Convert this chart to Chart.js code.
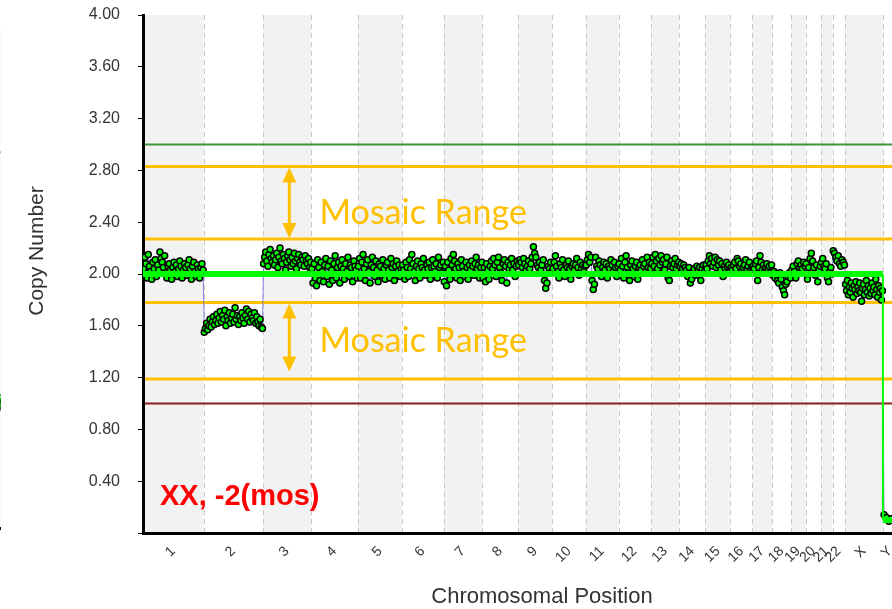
<!DOCTYPE html>
<html>
<head>
<meta charset="utf-8">
<script src="https://cdn.jsdelivr.net/npm/chart.js@4.4.0/dist/chart.umd.min.js"></script>
<style>
  html, body { margin: 0; padding: 0; background: #fff; overflow: hidden; }
  #wrap { position: relative; width: 892px; height: 609px; overflow: hidden; background: #fff; }
  #main { position: absolute; left: 0; top: 0; }
  #prev { position: absolute; left: -54px; top: 0; }
</style>
</head>
<body>
<div id="wrap">
  <canvas id="main" width="912" height="609"></canvas>
  <canvas id="prev" width="60" height="609"></canvas>
</div>
<script>
// Chromosomes and their lengths (Mb)
const chromosomes = ['1','2','3','4','5','6','7','8','9','10','11','12','13','14','15','16','17','18','19','20','21','22','X','Y'];
const chromSizesMb = [249,243,198,191,181,171,159,146,141,136,135,134,115,107,103,90,81,78,59,63,48,51,155,59];

// Probe copy-number values per chromosome, in genomic order
const cn1  = [2.04,2.13,2.08,1.97,2.15,2.06,2.02,1.96,2.09,2.04,2.11,1.98,2.07,2.03,2.17,2.12,2.09,2.05,2.14,2.01,1.97,2.06,2.08,2.03,1.96,2.05,2.09,2.02,2.07,1.98,2.04,2.10,2.06,1.97,2.03,2.08,2.05,1.99,2.07,2.11,2.04,1.96,2.06,2.09,2.02,1.98,2.07,2.04,1.97,2.05,2.08,2.03];
const cn2  = [1.55,1.58,1.62,1.57,1.60,1.65,1.59,1.63,1.67,1.61,1.64,1.69,1.62,1.66,1.71,1.63,1.68,1.65,1.72,1.60,1.67,1.64,1.70,1.62,1.66,1.69,1.63,1.74,1.65,1.68,1.61,1.67,1.64,1.70,1.66,1.62,1.68,1.73,1.65,1.71,1.63,1.69,1.66,1.64,1.70,1.62,1.67,1.63,1.60,1.65,1.59,1.58];
const cn3  = [2.08,2.13,2.17,2.10,2.06,2.15,2.19,2.12,2.09,2.14,2.07,2.11,2.16,2.05,2.13,2.20,2.10,2.08,2.15,2.12,2.03,2.09,2.14,2.17,2.11,2.06,2.13,2.08,2.16,2.10,2.04,2.12,2.15,2.09,2.07,2.13,2.11,2.06,2.14,2.10,2.08,2.12,2.05,2.09];
const cn4  = [2.04,1.93,2.08,1.97,1.91,2.11,2.05,1.95,2.09,2.02,1.94,2.07,2.12,1.98,2.06,1.92,2.10,2.03,1.95,2.08,2.14,1.97,2.05,2.09,1.93,2.06,2.11,2.04,1.96,2.08,2.02,2.13,1.98,2.07,2.05,1.94,2.10,2.06,2.03,1.97];
const cn5  = [2.06,2.12,1.97,2.09,2.15,2.04,1.95,2.08,2.11,2.02,1.93,2.07,2.13,2.05,1.98,2.10,2.03,1.94,2.08,2.06,1.99,2.11,2.04,1.96,2.07,2.09,2.03,1.97,2.12,2.05,2.08,1.95,2.06,2.10,2.02,2.07,1.98,2.04];
const cn6  = [2.07,2.03,1.96,2.09,2.05,1.98,2.11,2.04,2.15,2.08,2.02,1.95,2.06,2.10,2.04,1.97,2.08,2.05,2.12,2.03,1.99,2.07,2.04,2.09,1.96,2.05,2.11,2.06,2.02,2.08,1.97,2.13,2.05,2.07,2.01,2.09];
const cn7  = [1.94,2.06,1.91,2.09,2.03,1.96,2.12,2.07,2.15,2.10,2.04,1.97,2.08,2.05,1.95,2.11,2.06,2.02,1.98,2.09,2.05,1.96,2.07,2.03,2.10,2.06,1.99,2.08,2.13,2.04,2.07,1.97,2.05,2.09];
const cn8  = [1.97,2.05,1.94,2.08,2.03,1.96,2.06,2.10,2.04,2.12,2.07,1.98,2.09,2.13,2.05,2.01,1.95,2.08,2.11,2.06,1.93,2.09,2.04,2.07,2.12,2.03,2.08,1.98,2.06,2.10];
const cn9  = [2.07,2.11,2.09,2.05,2.12,2.08,2.03,2.06,2.10,2.04,2.08,2.13,2.21,2.16,2.13,2.07,2.05,2.09,2.03,2.07,2.11,1.95,1.89,1.93,2.06,2.04,2.09,2.02];
const cn10 = [2.04,2.09,2.14,2.06,2.02,1.97,2.08,2.05,2.11,2.03,1.98,2.07,2.05,2.10,2.04,1.96,2.06,2.08,2.03,2.07,2.12,2.05,1.99,2.09,2.04,2.07,2.02,2.06];
const cn11 = [2.07,2.11,2.15,2.09,2.13,1.95,1.88,1.92,2.13,2.06,2.04,2.10,2.07,1.98,2.05,2.09,2.03,2.08,1.97,2.06,2.04,2.11,2.07,2.02,2.09,2.05,1.98,2.06];
const cn12 = [2.08,2.03,2.12,2.06,1.97,2.09,2.14,2.05,2.01,1.95,2.07,2.10,2.04,1.98,2.06,2.09,1.96,2.05,2.07,2.03,2.11,2.06,2.08,2.02,2.13,2.05,2.09,2.04];
const cn13 = [2.08,2.13,2.06,2.15,2.10,2.04,2.12,2.07,2.14,2.09,2.11,2.03,2.08,2.13,1.97,1.95,2.06,2.10,2.05,2.08,2.12,2.04,2.07,2.09];
const cn14 = [2.06,2.08,2.04,2.07,2.05,2.03,1.98,2.05,1.93,1.96,2.02,2.04,1.99,2.06,2.03,2.05,1.95,2.04,2.07,2.02];
const cn15 = [2.07,2.04,2.10,2.14,2.08,2.12,2.06,2.09,2.13,2.05,2.11,2.07,2.10,2.03,2.08,1.98,2.06,2.04,2.09,2.05,2.07,2.03];
const cn16 = [2.05,2.03,2.07,2.09,2.04,2.12,2.10,2.06,2.08,2.02,2.05,2.07,2.11,2.04,2.06,2.09,2.03,2.05];
const cn17 = [2.06,2.04,2.08,2.10,1.95,2.05,2.14,2.09,2.03,2.07,2.02,2.05,2.08,2.04,2.06,2.01,2.07];
const cn18 = [1.99,2.02,1.97,2.00,1.95,1.93,2.01,1.96,1.90,1.87,1.84,1.92,1.94,1.98,2.01,1.97];
const cn19 = [2.03,2.06,2.02,1.97,2.08,2.10,2.05,2.07,2.04,2.09,2.06];
const cn20 = [2.08,1.96,2.05,2.12,2.16,2.10,2.05,1.99,2.07,1.94,2.03,2.06];
const cn21 = [2.09,2.12,2.06,2.04,2.08,1.97,1.94,2.02,2.05,2.00];
const cn22 = [2.18,2.16,2.13,2.10,2.14,2.08,2.06,2.11,2.09,2.07];
const cnX  = [1.92,1.87,1.95,1.84,1.90,1.86,1.93,1.89,1.82,1.91,1.88,1.94,1.85,1.90,1.87,1.93,1.86,1.79,1.89,1.92,1.84,1.88,1.95,1.86,1.91,1.83,1.89,1.85,1.93,1.87,1.90,1.84,1.96,1.88,1.82,1.91,1.86,1.89,1.80,1.87];
const cnY  = [0.14,0.12,0.09,0.11,0.10,0.12];
const probeValues = [cn1,cn2,cn3,cn4,cn5,cn6,cn7,cn8,cn9,cn10,cn11,cn12,cn13,cn14,cn15,cn16,cn17,cn18,cn19,cn20,cn21,cn22,cnX,cnY];

// Segment copy-number call per chromosome
const segmentCalls = [2,2,2,2,2,2,2,2,2,2,2,2,2,2,2,2,2,2,2,2,2,2,2,0.1];

// Reference levels
const gainLevel = 3.0;
const lossLevel = 1.0;
const mosaicLevels = [2.83, 2.27, 1.78, 1.19];
const mosaicArrows = [[2.83, 2.27], [1.78, 1.24]];
const mosaicCaptionLevels = [2.47, 1.48];
const mosaicLabel = 'Mosaic Range';
const resultLabel = 'XX, -2(mos)';
const yTickValues = [0.4,0.8,1.2,1.6,2.0,2.4,2.8,3.2,3.6,4.0];

// Neighbouring panel (right end only)
const prevValues = [0.97,1.03,0.99,1.02,0.96,1.01,0.98,1.04];

// ---- derived geometry in genome coordinates ----
const chromStarts = [];
chromSizesMb.reduce((acc, s) => { chromStarts.push(acc); return acc + s; }, 0);
const genomeEnd = chromStarts[chromStarts.length - 1] + chromSizesMb[chromSizesMb.length - 1];
const chromCenters = chromStarts.map((s, i) => s + chromSizesMb[i] / 2);

const probePoints = [];
probeValues.forEach((vals, i) => {
  vals.forEach((v, j) => {
    probePoints.push({ x: chromStarts[i] + chromSizesMb[i] * (j + 0.5) / vals.length, y: v });
  });
});

const segPoints = [];
segmentCalls.forEach((v, i) => {
  segPoints.push({ x: chromStarts[i], y: v });
  segPoints.push({ x: chromStarts[i] + chromSizesMb[i], y: v });
});

const FONT = "'Liberation Sans', Arial, sans-serif";
const ORANGE = '#FFC000';
const AXIS_TEXT = '#333';

function hLine(ctx, area, y, color, width) {
  ctx.strokeStyle = color;
  ctx.lineWidth = width;
  ctx.beginPath();
  ctx.moveTo(area.left, y);
  ctx.lineTo(area.right, y);
  ctx.stroke();
}

// Alternating chromosome bands, dashed boundaries and reference levels
const backdrop = {
  id: 'backdrop',
  beforeDraw(chart) {
    const { ctx, chartArea: a, scales: { x, y } } = chart;
    ctx.save();
    ctx.beginPath();
    ctx.rect(a.left, a.top, a.right - a.left, a.bottom - a.top);
    ctx.clip();
    chromStarts.forEach((s, i) => {
      if (i % 2 === 0) {
        const x0 = x.getPixelForValue(s);
        const x1 = x.getPixelForValue(s + chromSizesMb[i]);
        ctx.fillStyle = '#f2f2f2';
        ctx.fillRect(x0, a.top, x1 - x0, a.bottom - a.top);
      }
    });
    ctx.strokeStyle = '#c8c8c8';
    ctx.lineWidth = 1;
    ctx.setLineDash([5, 4]);
    chromStarts.forEach((s, i) => {
      if (i === 0) return;
      const px = Math.round(x.getPixelForValue(s)) + 0.5;
      ctx.beginPath();
      ctx.moveTo(px, a.top);
      ctx.lineTo(px, a.bottom);
      ctx.stroke();
    });
    ctx.setLineDash([]);
    hLine(ctx, a, y.getPixelForValue(gainLevel), '#3c963c', 2);
    hLine(ctx, a, y.getPixelForValue(lossLevel), '#8b1e1e', 2);
    mosaicLevels.forEach(v => hLine(ctx, a, y.getPixelForValue(v), ORANGE, 3));
    ctx.restore();
  }
};

function arrowHead(ctx, x, y, dir) {
  ctx.beginPath();
  ctx.moveTo(x, y);
  ctx.lineTo(x - 7, y + dir * 15);
  ctx.lineTo(x + 7, y + dir * 15);
  ctx.closePath();
  ctx.fill();
}

// Double arrows with "Mosaic Range" captions, result label and axis titles
const annotations = {
  id: 'annotations',
  afterDatasetsDraw(chart) {
    const { ctx, chartArea: a, scales: { x, y } } = chart;
    const arrowX = x.getPixelForValue(chromStarts[2] + 108);
    const textX = x.getPixelForValue(chromStarts[2] + 232);
    ctx.save();
    ctx.strokeStyle = ORANGE;
    ctx.fillStyle = ORANGE;
    mosaicArrows.forEach(([hi, lo], k) => {
      const yTop = y.getPixelForValue(hi) + 1;
      const yBot = y.getPixelForValue(lo) - 1;
      ctx.lineWidth = 3;
      ctx.beginPath();
      ctx.moveTo(arrowX, yTop + 10);
      ctx.lineTo(arrowX, yBot - 10);
      ctx.stroke();
      arrowHead(ctx, arrowX, yTop, 1);
      arrowHead(ctx, arrowX, yBot, -1);
      ctx.font = "34px Lato, 'Open Sans', sans-serif";
      ctx.textAlign = 'left';
      ctx.textBaseline = 'middle';
      ctx.fillText(mosaicLabel, textX, y.getPixelForValue(mosaicCaptionLevels[k]));
    });
    ctx.fillStyle = '#ff0000';
    ctx.font = "bold 29px " + FONT;
    ctx.textAlign = 'left';
    ctx.textBaseline = 'middle';
    ctx.fillText(resultLabel, a.left + 17, a.bottom - 36);

    ctx.fillStyle = AXIS_TEXT;
    ctx.textAlign = 'center';
    ctx.font = "22px " + FONT;
    ctx.fillText('Chromosomal Position', a.left + 399, a.bottom + 64);
    ctx.translate(a.left - 106, a.top + 236);
    ctx.rotate(-Math.PI / 2);
    ctx.font = "21px " + FONT;
    ctx.fillText('Copy Number', 0, 0);
    ctx.restore();
  }
};

new Chart(document.getElementById('main'), {
  type: 'scatter',
  data: {
    datasets: [
      {
        label: 'Segments',
        data: segPoints,
        showLine: true,
        borderColor: '#00ff00',
        borderWidth: 6,
        borderCapStyle: 'butt',
        pointRadius: 0,
        order: 0,
        segment: {
          borderWidth: c => (c.p0.parsed.x === c.p1.parsed.x ? 2 : 6)
        }
      },
      {
        label: 'Probes',
        data: probePoints,
        showLine: true,
        borderColor: 'rgba(110,110,230,0.85)',
        borderWidth: 1,
        pointRadius: 3,
        pointBackgroundColor: '#00ff00',
        pointBorderColor: '#000',
        pointBorderWidth: 1.5,
        order: 1
      }
    ]
  },
  options: {
    responsive: false,
    animation: false,
    events: [],
    layout: { padding: { top: 15, right: 4, left: 0, bottom: 0 } },
    plugins: { legend: { display: false }, tooltip: { enabled: false } },
    scales: {
      x: {
        type: 'linear',
        min: 0,
        max: genomeEnd,
        afterBuildTicks: s => { s.ticks = chromCenters.map(v => ({ value: v })); },
        afterFit: s => { s.height = 76; },
        ticks: {
          autoSkip: false,
          minRotation: 45,
          maxRotation: 45,
          padding: 10,
          color: AXIS_TEXT,
          font: { family: FONT, size: 14 },
          callback: (v, i) => chromosomes[i]
        },
        grid: { display: false, drawTicks: false },
        border: { display: true, color: '#000', width: 3 },
        title: { display: false }
      },
      y: {
        min: 0,
        max: 4,
        afterBuildTicks: s => { s.ticks = [0].concat(yTickValues).map(v => ({ value: v })); },
        afterFit: s => { s.width = 143; s.paddingTop = 0; s.paddingBottom = 0; },
        ticks: {
          padding: 18,
          color: AXIS_TEXT,
          font: { family: FONT, size: 16 },
          callback: v => (v === 0 ? '' : v.toFixed(2))
        },
        grid: { drawOnChartArea: false, drawTicks: true, tickLength: 5, color: '#000' },
        border: { display: true, color: '#000', width: 3 },
        title: { display: false }
      }
    }
  },
  plugins: [backdrop, annotations]
});

// Right edge of the neighbouring panel
const prevBackdrop = {
  id: 'prevBackdrop',
  beforeDraw(chart) {
    const { ctx, chartArea: a, scales: { y } } = chart;
    ctx.save();
    ctx.fillStyle = '#f2f2f2';
    ctx.fillRect(a.left, a.top, a.right - a.left, a.bottom - a.top);
    hLine(ctx, a, y.getPixelForValue(gainLevel), '#3c963c', 2);
    ctx.restore();
  }
};

new Chart(document.getElementById('prev'), {
  type: 'scatter',
  data: {
    datasets: [{
      data: prevValues.map((v, j) => ({ x: 9 + j * 0.13, y: v })),
      pointRadius: 3,
      pointBackgroundColor: '#00ff00',
      pointBorderColor: '#000',
      pointBorderWidth: 1.5
    }]
  },
  options: {
    responsive: false,
    animation: false,
    events: [],
    layout: { padding: { top: 27, right: 0, left: 0, bottom: 81 } },
    plugins: { legend: { display: false }, tooltip: { enabled: false } },
    scales: {
      x: {
        type: 'linear', min: 0, max: 10,
        ticks: { display: false },
        grid: { display: false, drawTicks: false },
        border: { display: true, color: '#000', width: 3 }
      },
      y: { min: 0, max: 4, display: false }
    }
  },
  plugins: [prevBackdrop]
});
</script>
</body>
</html>
